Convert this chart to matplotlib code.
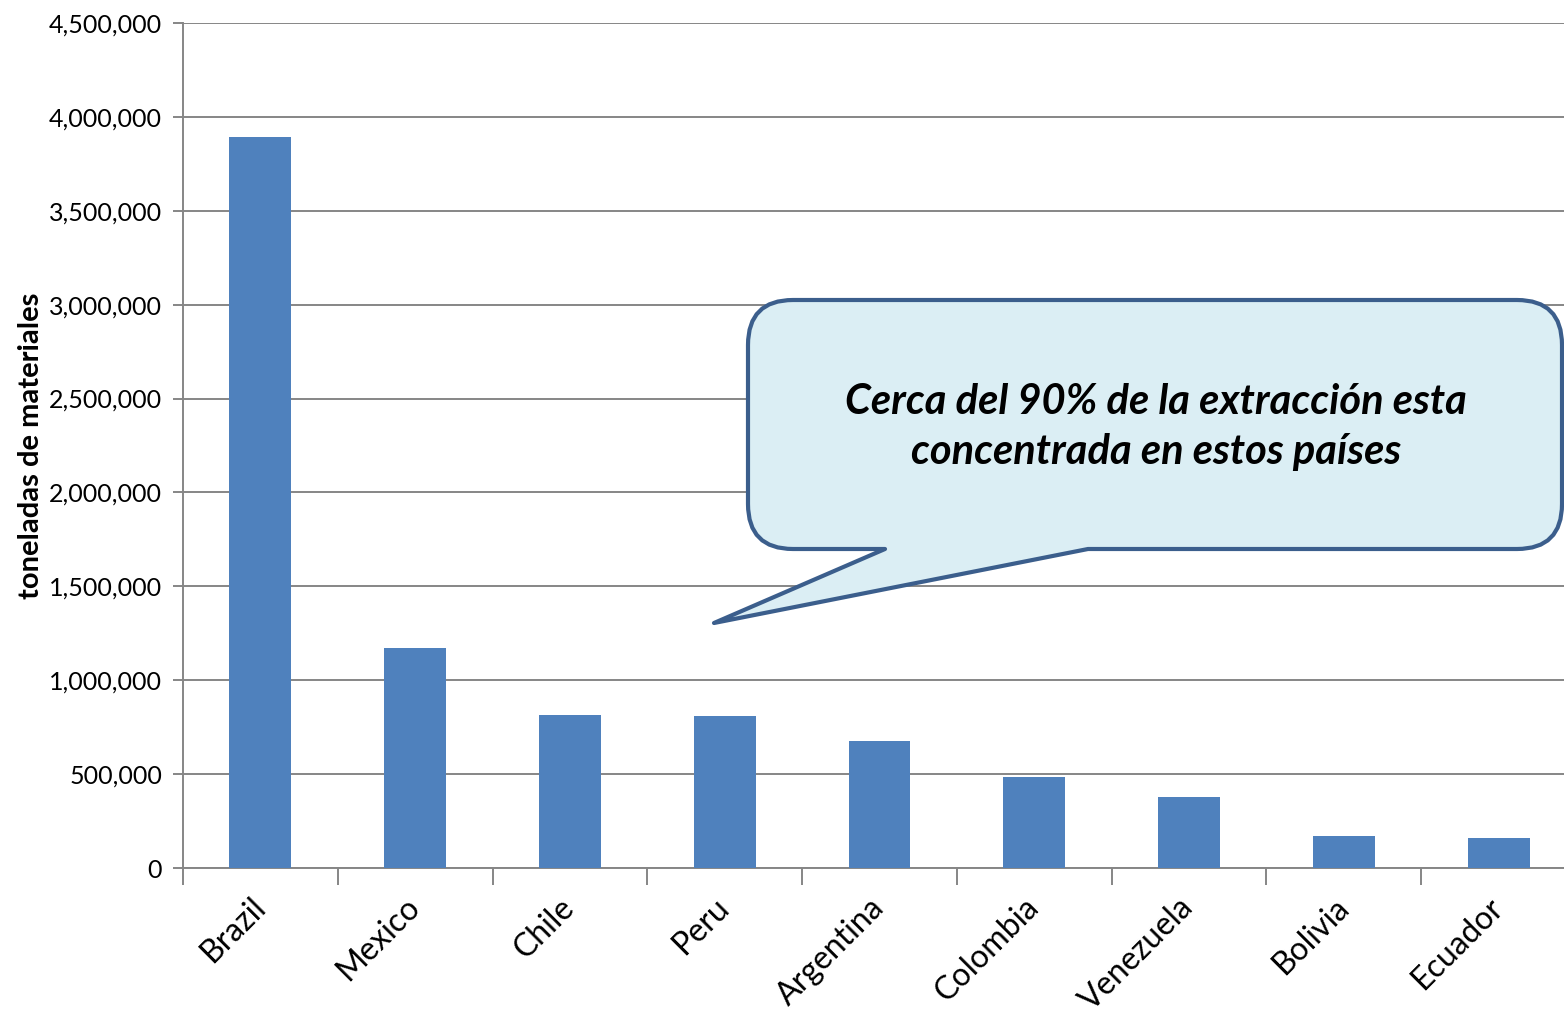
import matplotlib
matplotlib.use("Agg")
import matplotlib.pyplot as plt
import matplotlib.patches as patches
from matplotlib.path import Path
from matplotlib.ticker import FuncFormatter
import numpy as np

# Data
countries = ["Brazil", "Mexico", "Chile", "Peru", "Argentina",
             "Colombia", "Venezuela", "Bolivia", "Ecuador"]
tonnes = [3895000, 1172000, 813000, 811000, 675000,
          483000, 380000, 170000, 160000]
y_ticks = [0, 500000, 1000000, 1500000, 2000000,
           2500000, 3000000, 3500000, 4000000, 4500000]

plt.rcParams['font.family'] = ['Lato', 'DejaVu Sans']

W, H = 1564, 1021
fig = plt.figure(figsize=(W / 100, H / 100), dpi=100)
ax = fig.add_axes([183 / W, 1 - 868 / H, (1576 - 183) / W, (868 - 23) / H])

grid_gray = '#868686'
x = np.arange(len(countries))
ax.bar(x, tonnes, width=0.4, color='#4F81BD', zorder=3)

ax.set_xlim(-0.5, len(countries) - 0.5)
ax.set_ylim(0, 4500000)
ax.set_yticks(y_ticks)
ax.yaxis.set_major_formatter(FuncFormatter(lambda v, p: f"{v:,.0f}"))
ax.grid(axis='y', color=grid_gray, linewidth=1.4, zorder=0)

ax.set_xticks(x)
ax.set_xticklabels(countries, rotation=45, ha='right', va='center',
                   rotation_mode='anchor', fontsize=23)
ax.tick_params(axis='x', which='major', length=0, pad=25)
ax.set_xticks(np.arange(-0.5, len(countries), 1), minor=True)
ax.tick_params(axis='x', which='minor', length=12, width=1.4, color=grid_gray)
ax.tick_params(axis='y', length=7, width=1.4, color=grid_gray,
               labelsize=18, pad=8)

for s in ['top', 'right']:
    ax.spines[s].set_visible(False)
for s in ['left', 'bottom']:
    ax.spines[s].set_color(grid_gray)
    ax.spines[s].set_linewidth(1.4)

ax.set_ylabel("toneladas de materiales", fontsize=21, fontweight='bold')
ax.yaxis.set_label_coords(-0.1, 0.5)

# Speech bubble callout (pixel coords, y down)
L, R, T, B, r = 748, 1562, 300, 549, 45
a, b, tip = 885, 1088, (714, 623)
pts = [(L + r, T), (R - r, T), (R, T), (R, T + r), (R, B - r), (R, B),
       (R - r, B), (b, B), tip, (a, B), (L + r, B), (L, B), (L, B - r),
       (L, T + r), (L, T), (L + r, T), (L + r, T)]
codes = [Path.MOVETO, Path.LINETO, Path.CURVE3, Path.CURVE3, Path.LINETO,
         Path.CURVE3, Path.CURVE3, Path.LINETO, Path.LINETO, Path.LINETO,
         Path.LINETO, Path.CURVE3, Path.CURVE3, Path.LINETO, Path.CURVE3,
         Path.CURVE3, Path.CLOSEPOLY]
verts = [(px / W, 1 - py / H) for px, py in pts]
bubble = patches.PathPatch(Path(verts, codes), facecolor='#DBEEF4',
                           edgecolor='#3B5E8C', linewidth=3,
                           transform=fig.transFigure, zorder=10,
                           joinstyle='round')
fig.patches.append(bubble)

fig.text(1156 / W, 1 - 427 / H,
         "Cerca del 90% de la extracción esta\nconcentrada en estos países",
         ha='center', va='center', fontsize=30, fontweight='bold',
         style='italic', linespacing=1.4, zorder=11)

fig.savefig("out.png", dpi=100)
